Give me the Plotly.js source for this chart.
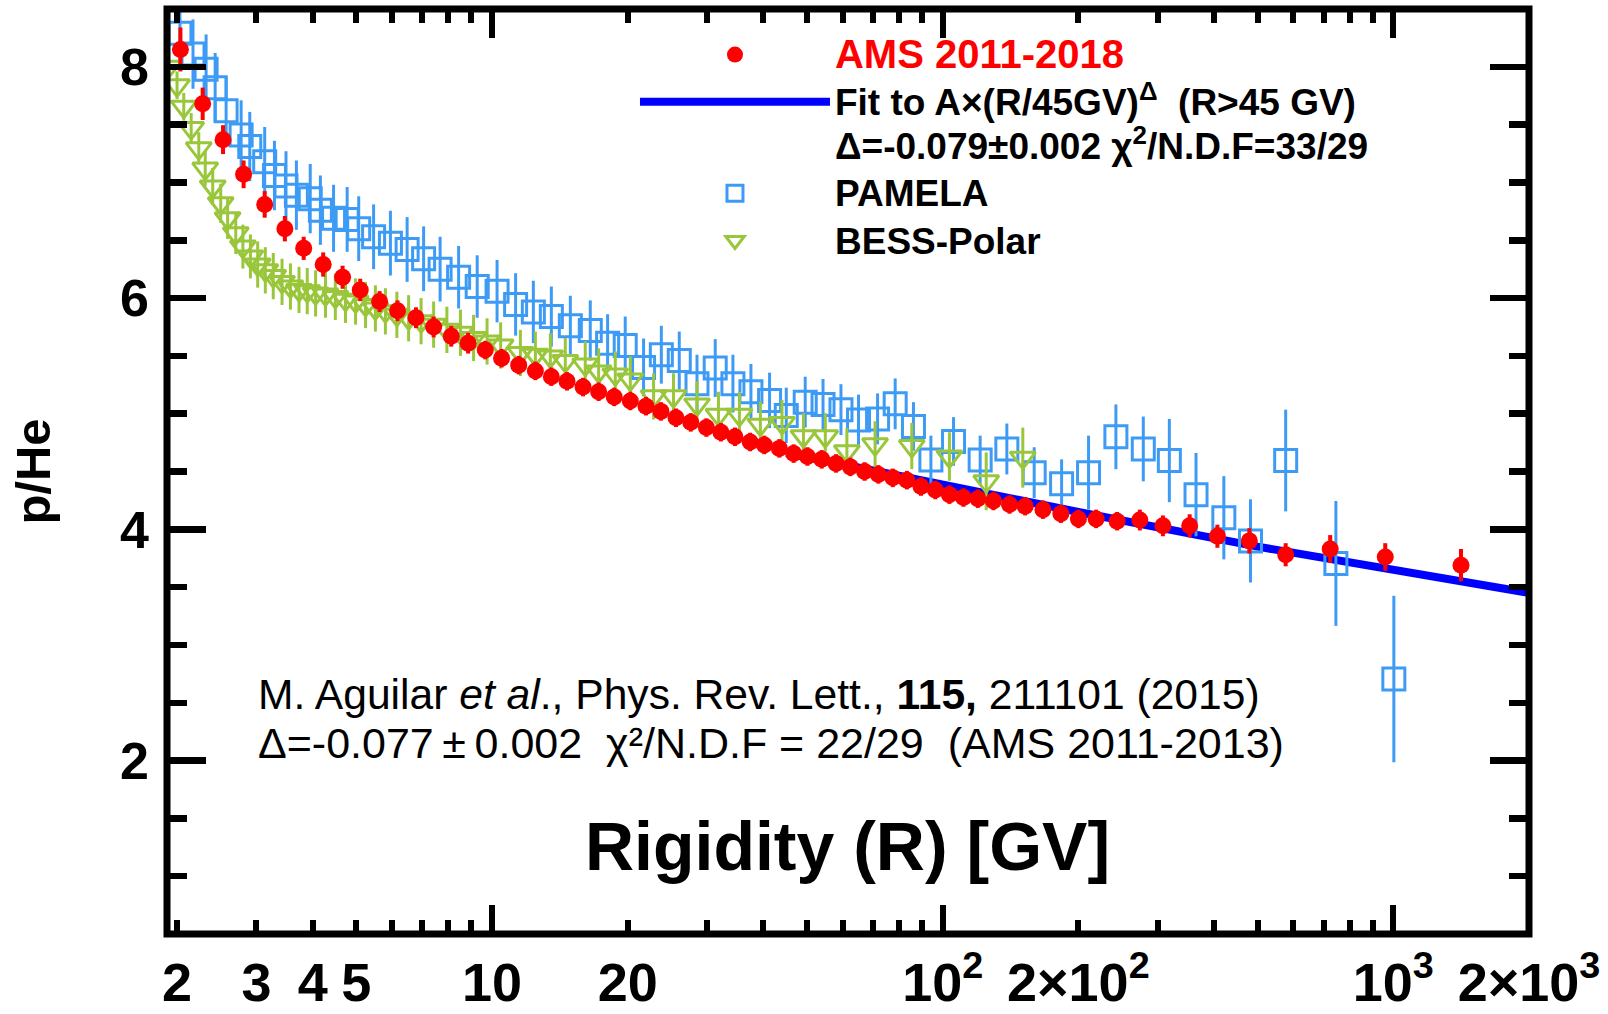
<!DOCTYPE html>
<html>
<head>
<meta charset="utf-8">
<script src="https://cdn.plot.ly/plotly-3.0.1.min.js"></script>
<style>
  html, body { margin: 0; padding: 0; background: #ffffff; }
  #chart { width: 1608px; height: 1014px; }
</style>
</head>
<body>
<div id="chart"></div>
<script>
// p/He flux ratio versus rigidity

// AMS 2011-2018
const amsR = [2.035, 2.28, 2.53, 2.81, 3.13, 3.47, 3.82, 4.22, 4.66, 5.10,
  5.63, 6.17, 6.78, 7.42, 8.12, 8.85, 9.66, 10.5, 11.46, 12.48,
  13.54, 14.67, 15.92, 17.24, 18.67, 20.27, 21.96, 23.7, 25.6, 27.6,
  29.9, 32.2, 34.6, 37.4, 40.2, 43.4, 46.7, 50.1, 53.9, 58.0,
  62.4, 67.1, 72.0, 77.5, 83.3, 89.5, 96.3, 103.5, 111.2, 119.7,
  129.6, 140.7, 152.4, 166.9, 182.9, 200.1, 219, 243.8, 273.8, 308.1,
  353.2, 407, 479.2, 576.9, 724.2, 959.5, 1413];
const amsV = [8.15, 7.68, 7.37, 7.07, 6.81, 6.60, 6.43, 6.29, 6.18, 6.07,
  5.97, 5.89, 5.83, 5.75, 5.67, 5.61, 5.55, 5.48, 5.42, 5.37,
  5.32, 5.28, 5.23, 5.19, 5.145, 5.11, 5.065, 5.02, 4.965, 4.925,
  4.88, 4.84, 4.80, 4.755, 4.73, 4.70, 4.655, 4.63, 4.605, 4.57,
  4.54, 4.50, 4.475, 4.445, 4.425, 4.37, 4.34, 4.30, 4.275, 4.265,
  4.245, 4.215, 4.20, 4.17, 4.135, 4.09, 4.09, 4.07, 4.08, 4.03,
  4.03, 3.94, 3.90, 3.78, 3.83, 3.76, 3.69];
const amsErr = [0.19, 0.14, 0.125, 0.12, 0.115, 0.11, 0.10, 0.105, 0.10, 0.097,
  0.09, 0.09, 0.09, 0.09, 0.09, 0.09, 0.08, 0.08, 0.08, 0.08,
  0.08, 0.08, 0.08, 0.08, 0.08, 0.08, 0.08, 0.08, 0.08, 0.08,
  0.08, 0.08, 0.08, 0.08, 0.08, 0.08, 0.08, 0.08, 0.08, 0.08,
  0.08, 0.08, 0.08, 0.08, 0.08, 0.08, 0.08, 0.08, 0.08, 0.08,
  0.08, 0.08, 0.08, 0.08, 0.08, 0.08, 0.08, 0.08, 0.09, 0.09,
  0.10, 0.10, 0.11, 0.10, 0.12, 0.12, 0.14];

// Power-law fit above 45 GV
const fitR = [45, 100, 200, 500, 1000, 2000];
const fitV = [4.66, 4.38, 4.15, 3.85, 3.65, 3.45];

// PAMELA
const pamelaR = [2.03, 2.17, 2.32, 2.43, 2.57, 2.775, 2.90, 3.13, 3.29, 3.49,
  3.68, 3.95, 4.16, 4.45, 4.77, 5.06, 5.46, 5.95, 6.48, 7.05,
  7.67, 8.43, 9.27, 10.26, 11.28, 12.35, 13.54, 14.92, 16.52, 18.05,
  19.75, 21.69, 23.75, 26.03, 28.5, 31.28, 34.24, 37.54, 41.29, 44.97,
  49.54, 54.26, 59.47, 65.05, 71.7, 78.45, 86.13, 94.15, 105.7, 121.1,
  138.8, 159.6, 183.6, 210.7, 242.3, 278.7, 318.4, 364.9, 420.6, 482,
  576.9, 745.6, 1002.6];
const pamelaV = [8.29, 8.11, 7.98, 7.82, 7.62, 7.41, 7.31, 7.18, 7.06, 6.97,
  6.89, 6.86, 6.76, 6.69, 6.68, 6.60, 6.53, 6.475, 6.42, 6.34,
  6.25, 6.18, 6.10, 6.06, 5.945, 5.88, 5.84, 5.76, 5.72, 5.61,
  5.59, 5.40, 5.51, 5.46, 5.26, 5.395, 5.26, 5.19, 5.115, 4.985,
  5.10, 5.08, 5.035, 4.945, 4.955, 5.085, 4.89, 4.60, 4.76, 4.60,
  4.695, 4.49, 4.395, 4.49, 4.80, 4.695, 4.595, 4.30, 4.10, 3.90,
  4.595, 3.705, 2.705];
const pamelaErr = [0.30, 0.30, 0.30, 0.30, 0.30, 0.30, 0.30, 0.30, 0.30, 0.30,
  0.30, 0.30, 0.30, 0.29, 0.28, 0.28, 0.28, 0.28, 0.28, 0.28,
  0.28, 0.27, 0.27, 0.27, 0.27, 0.27, 0.26, 0.26, 0.26, 0.25,
  0.25, 0.25, 0.25, 0.25, 0.25, 0.25, 0.25, 0.24, 0.24, 0.24,
  0.22, 0.22, 0.22, 0.22, 0.22, 0.22, 0.21, 0.21, 0.21, 0.21,
  0.22, 0.22, 0.21, 0.32, 0.28, 0.28, 0.36, 0.36, 0.36, 0.36,
  0.44, 0.54, 0.72];

// BESS-Polar
const bessR = [1.915, 2.0, 2.07, 2.15, 2.235, 2.31, 2.40, 2.50, 2.59, 2.70,
  2.80, 2.91, 3.02, 3.14, 3.27, 3.42, 3.57, 3.73, 3.89, 4.06,
  4.27, 4.49, 4.73, 4.98, 5.24, 5.51, 5.80, 6.15, 6.53, 6.96,
  7.42, 7.94, 8.51, 9.10, 9.75, 10.45, 11.56, 12.48, 13.47, 14.54,
  16.1, 17.24, 18.77, 20.27, 22.83, 25.27, 28.5, 31.8, 35.4, 39.4,
  44.0, 49.1, 54.9, 61.3, 70.8, 85.4, 103.5, 124.9, 150.6];
const bessV = [8.0, 7.84, 7.655, 7.47, 7.295, 7.12, 6.965, 6.82, 6.69, 6.56,
  6.445, 6.36, 6.29, 6.24, 6.19, 6.14, 6.10, 6.07, 6.06, 6.04,
  6.03, 6.01, 5.985, 5.97, 5.94, 5.91, 5.885, 5.855, 5.825, 5.80,
  5.77, 5.725, 5.70, 5.655, 5.625, 5.59, 5.525, 5.51, 5.495, 5.455,
  5.425, 5.365, 5.34, 5.295, 5.15, 5.15, 5.08, 4.99, 4.99, 4.905,
  4.92, 4.805, 4.805, 4.675, 4.735, 4.72, 4.63, 4.415, 4.62];
const bessErr = [0.12, 0.12, 0.12, 0.13, 0.14, 0.15, 0.16, 0.17, 0.18, 0.18,
  0.19, 0.19, 0.20, 0.20, 0.20, 0.20, 0.20, 0.20, 0.20, 0.20,
  0.20, 0.20, 0.20, 0.20, 0.20, 0.20, 0.20, 0.20, 0.20, 0.20,
  0.20, 0.20, 0.20, 0.20, 0.20, 0.20, 0.20, 0.20, 0.20, 0.20,
  0.20, 0.20, 0.20, 0.20, 0.20, 0.20, 0.20, 0.20, 0.20, 0.20,
  0.20, 0.20, 0.20, 0.20, 0.20, 0.20, 0.21, 0.25, 0.26];

// Axis ticks
const xLabelVals = [2, 3, 4, 5, 10, 20, 100, 200, 1000, 2000];
const xLabelText = ['2', '3', '4', '5', '10', '20', '10<sup>2</sup>', '2×10<sup>2</sup>', '10<sup>3</sup>', '2×10<sup>3</sup>'];
const xMajorVals = [10, 100, 1000];
const xMinorVals = [2, 3, 4, 5, 6, 7, 8, 9, 20, 30, 40, 50, 60, 70, 80, 90,
  200, 300, 400, 500, 600, 700, 800, 900];
const yMajorVals = [2, 4, 6, 8];
const yMinorVals = [0.5, 1, 1.5, 2.5, 3, 3.5, 4.5, 5, 5.5, 6.5, 7, 7.5, 8.5];

const FONT = 'Liberation Sans, Arial, Helvetica, sans-serif';
const xRange = [Math.log10(1.9), Math.log10(2000)];

// legend entries are set a little larger than the row pitch
const big = s => '<span style="font-size:37px">' + s + '</span>';

const traces = [
  {
    type: 'scatter', mode: 'lines', x: fitR, y: fitV,
    name: big('Fit to A×(R/45GV)<sup>Δ</sup>  (R&gt;45 GV)') + '<br>' + big('Δ=-0.079±0.002 χ<sup>2</sup>/N.D.F=33/29'),
    line: { color: '#0000ff', width: 8 },
    legendrank: 2
  },
  {
    type: 'scatter', mode: 'markers', x: pamelaR, y: pamelaV,
    name: big('PAMELA'),
    marker: { symbol: 'square-open', size: 22, color: '#3d9bf5', line: { width: 3, color: '#3d9bf5' } },
    error_y: { type: 'data', array: pamelaErr, color: '#3d9bf5', thickness: 3, width: 0 },
    legendrank: 3
  },
  {
    type: 'scatter', mode: 'markers', x: bessR, y: bessV,
    name: big('BESS-Polar'),
    marker: { symbol: 'triangle-down-open', size: 22, color: '#99c63a', line: { width: 3, color: '#99c63a' } },
    error_y: { type: 'data', array: bessErr, color: '#99c63a', thickness: 3, width: 0 },
    legendrank: 4
  },
  {
    type: 'scatter', mode: 'markers', x: amsR, y: amsV,
    name: '<span style="color:#ff0000;font-size:40px">AMS 2011-2018</span>',
    marker: { symbol: 'circle', size: 17, color: '#ff0000' },
    error_y: { type: 'data', array: amsErr, color: '#ff0000', thickness: 4, width: 0 },
    legendrank: 1
  },
  {
    // carries the labelled tick axis
    type: 'scatter', mode: 'markers', x: [], y: [], xaxis: 'x2', yaxis: 'y',
    showlegend: false, hoverinfo: 'skip'
  }
];

const layout = {
  width: 1608, height: 1014,
  margin: { l: 167, r: 79, t: 9, b: 80 },
  paper_bgcolor: '#ffffff', plot_bgcolor: '#ffffff',
  showlegend: true,
  font: { family: FONT, color: '#000000' },
  xaxis: {
    type: 'log', range: xRange,
    showline: false, showgrid: false, zeroline: false,
    tickmode: 'array', tickvals: xMajorVals,
    ticks: 'inside', ticklen: 29, tickwidth: 6, tickcolor: '#000000',
    mirror: 'ticks', showticklabels: false,
    minor: { tickmode: 'array', tickvals: xMinorVals, ticks: 'inside', ticklen: 14, tickwidth: 6, tickcolor: '#000000', showgrid: false }
  },
  xaxis2: {
    type: 'log', range: xRange, overlaying: 'x', anchor: 'y', side: 'bottom',
    showline: false, showgrid: false, zeroline: false,
    tickmode: 'array', tickvals: xLabelVals, ticktext: xLabelText,
    ticks: '', ticklabelstandoff: 12,
    tickfont: { family: FONT, size: 54, weight: 'bold', color: '#000000' }
  },
  yaxis: {
    range: [0.5, 8.5],
    showline: false, showgrid: false, zeroline: false,
    tickmode: 'array', tickvals: yMajorVals,
    ticks: 'inside', ticklen: 39, tickwidth: 6.5, tickcolor: '#000000',
    mirror: 'ticks', ticklabelstandoff: 17,
    tickfont: { family: FONT, size: 52, weight: 'bold', color: '#000000' },
    minor: { tickmode: 'array', tickvals: yMinorVals, ticks: 'inside', ticklen: 20, tickwidth: 6.5, tickcolor: '#000000', showgrid: false },
    title: { text: 'p/He', standoff: 53, font: { family: FONT, size: 49, weight: 'bold', color: '#000000' } }
  },
  legend: {
    x: 0.3436, y: 0.9816, xanchor: 'left', yanchor: 'top',
    bgcolor: 'rgba(0,0,0,0)', borderwidth: 0,
    font: { family: FONT, size: 34, weight: 'bold', color: '#000000' },
    itemwidth: 190, valign: 'top', tracegroupgap: 0, itemsizing: 'trace'
  },
  shapes: [
    { type: 'rect', xref: 'paper', yref: 'paper', x0: 0, x1: 1, y0: 0, y1: 1,
      line: { color: '#000000', width: 7 }, fillcolor: 'rgba(0,0,0,0)', layer: 'above' }
  ],
  annotations: [
    { xref: 'paper', yref: 'paper', x: 0.0653, y: 0.2595, xanchor: 'left', yanchor: 'middle',
      showarrow: false,
      text: 'M. Aguilar <i>et al</i>., Phys. Rev. Lett., <b>115,</b> 211101 (2015)',
      font: { family: FONT, size: 42.6, color: '#000000' } },
    { xref: 'paper', yref: 'paper', x: 0.0653, y: 0.2065, xanchor: 'left', yanchor: 'middle',
      showarrow: false,
      text: 'Δ=-0.077\u2009±\u20090.002\u00a0\u00a0χ²/N.D.F = 22/29\u00a0\u00a0(AMS 2011-2013)',
      font: { family: FONT, size: 43, color: '#000000' } },
    { xref: 'paper', yref: 'paper', x: 0.4993, y: 0.0951, xanchor: 'center', yanchor: 'middle',
      showarrow: false,
      text: 'Rigidity (R) [GV]',
      font: { family: FONT, size: 68, weight: 'bold', color: '#000000' } }
  ]
};

Plotly.newPlot('chart', traces, layout, { displayModeBar: false, staticPlot: true });
</script>
</body>
</html>
